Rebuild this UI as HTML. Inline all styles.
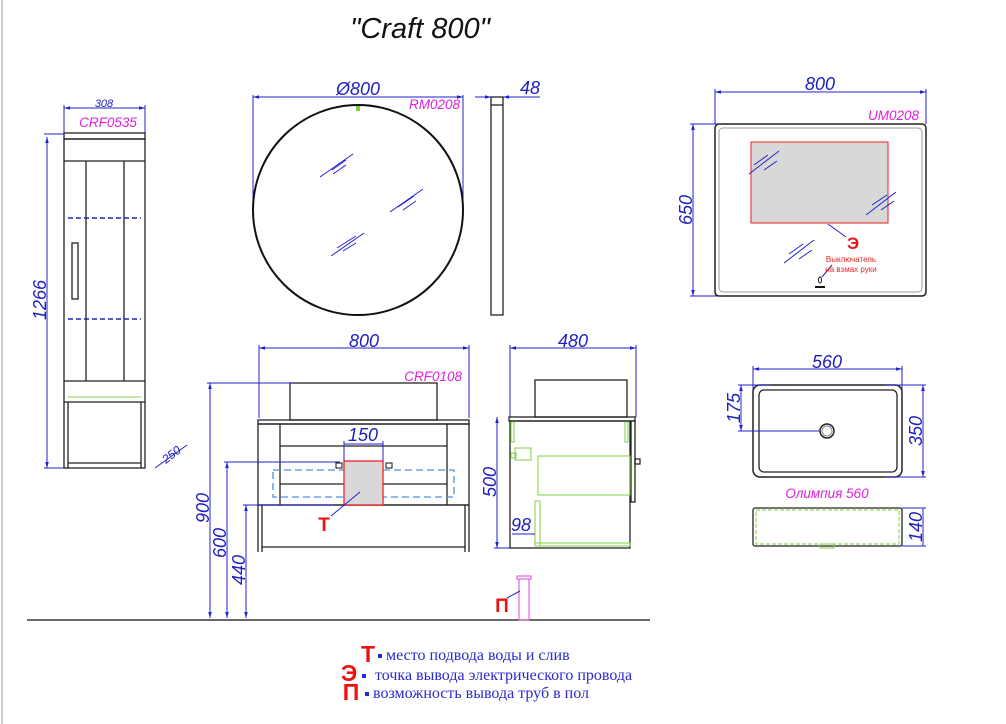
<!DOCTYPE html>
<html><head><meta charset="utf-8"><style>
html,body{margin:0;padding:0;background:#fff;}
svg{display:block;}
text{font-family:"Liberation Sans",sans-serif;}
.b{stroke:#2222cc;stroke-width:1;fill:none;}
.k{stroke:#222;stroke-width:1.3;fill:none;}
.g{stroke:#7fcf3f;stroke-width:1;fill:none;}
.dim{fill:#2020c0;font-style:italic;font-size:18px;}
.mg{fill:#e020e0;font-style:italic;font-size:13.5px;}
.lg{fill:#2a2ad0;font-family:"Liberation Serif",serif;font-size:16px;}
.rd{fill:#ee1111;font-weight:bold;}
</style></head><body>
<svg width="1006" height="724" viewBox="0 0 1006 724" xmlns="http://www.w3.org/2000/svg">
<defs><marker id="a" viewBox="0 0 10 10" refX="10" refY="5" markerWidth="6" markerHeight="6" orient="auto-start-reverse"><path d="M0,2 L10,5 L0,8z" fill="#2222cc"/></marker></defs>
<line x1="2" y1="0" x2="2" y2="724" stroke="#ccc" stroke-width="2"/>
<text x="420" y="38" text-anchor="middle" font-size="29" font-style="italic" fill="#111">"Craft 800"</text>

<!-- tall cabinet -->
<line class="b" x1="64" y1="108" x2="145" y2="108" marker-start="url(#a)" marker-end="url(#a)"/>
<line class="b" x1="64" y1="105" x2="64" y2="133"/><line class="b" x1="145" y1="105" x2="145" y2="133"/>
<text x="104" y="107" font-size="11" font-style="italic" fill="#2020c0" text-anchor="middle">308</text>
<text x="108" y="127" class="mg" text-anchor="middle">CRF0535</text>
<rect x="64" y="133" width="81" height="6" class="k" fill="#eee"/>
<rect x="64" y="139" width="81" height="329" class="k"/>
<line class="k" x1="64" y1="161" x2="145" y2="161"/>
<line class="k" x1="86" y1="161" x2="86" y2="381"/><line class="k" x1="124" y1="161" x2="124" y2="381"/>
<line class="k" x1="64" y1="381" x2="145" y2="381"/><line class="k" x1="64" y1="402" x2="145" y2="402"/>
<line class="g" x1="68" y1="397" x2="141" y2="397"/>
<line class="k" x1="68" y1="402" x2="68" y2="468"/><line class="k" x1="141" y1="402" x2="141" y2="468"/>
<line class="k" x1="68" y1="463" x2="141" y2="463"/>
<line x1="68" y1="218" x2="141" y2="218" stroke="#2222bb" stroke-width="1.5" stroke-dasharray="5,3"/>
<line x1="68" y1="319" x2="141" y2="319" stroke="#2222bb" stroke-width="1.5" stroke-dasharray="5,3"/>
<rect x="72" y="243" width="6" height="56" class="k" stroke-width="1.5"/>
<line class="b" x1="47" y1="137" x2="47" y2="468" marker-start="url(#a)" marker-end="url(#a)"/>
<line class="b" x1="44" y1="134" x2="64" y2="134"/><line class="b" x1="44" y1="468" x2="64" y2="468"/>
<text class="dim" transform="translate(46,300) rotate(-90)" text-anchor="middle" font-size="20">1266</text>
<line class="b" x1="155" y1="468" x2="187" y2="445"/>
<text x="166" y="464" transform="rotate(-38 166 464)" font-size="12" font-style="italic" fill="#2020c0">250</text>

<!-- round mirror -->
<line class="b" x1="253" y1="97" x2="463" y2="97" marker-start="url(#a)" marker-end="url(#a)"/>
<line class="b" x1="253" y1="95" x2="253" y2="210"/><line class="b" x1="463" y1="95" x2="463" y2="210"/>
<text x="358" y="95" class="dim" text-anchor="middle">Ø800</text>
<text x="460" y="109" class="mg" text-anchor="end">RM0208</text>
<circle cx="358" cy="210" r="105" fill="none" stroke="#111" stroke-width="2"/>
<rect x="356" y="106" width="4" height="5" fill="#7fcf3f"/>
<g stroke="#2222cc" stroke-width="1">
<line x1="320" y1="177" x2="353" y2="154"/><line x1="332" y1="170" x2="346" y2="160"/><line x1="333" y1="174" x2="346" y2="165"/>
<line x1="390" y1="212" x2="423" y2="189"/><line x1="398" y1="207" x2="414" y2="196"/><line x1="403" y1="210" x2="416" y2="201"/>
<line x1="331" y1="256" x2="364" y2="233"/><line x1="337" y1="248" x2="356" y2="236"/><line x1="343" y1="251" x2="356" y2="243"/>
</g>
<rect x="491" y="97" width="12" height="218" class="k"/>
<line class="k" x1="491" y1="105" x2="503" y2="105"/>
<line class="b" x1="475" y1="97" x2="491" y2="97" marker-end="url(#a)"/>
<line class="b" x1="540" y1="97" x2="503" y2="97" marker-end="url(#a)"/>
<text x="530" y="94" class="dim" text-anchor="middle">48</text>

<!-- rect mirror -->
<line class="b" x1="715" y1="92" x2="926" y2="92" marker-start="url(#a)" marker-end="url(#a)"/>
<line class="b" x1="715" y1="89" x2="715" y2="124"/><line class="b" x1="926" y1="89" x2="926" y2="124"/>
<text x="820" y="90" class="dim" text-anchor="middle">800</text>
<text x="919" y="120" class="mg" text-anchor="end">UM0208</text>
<line class="b" x1="693" y1="124" x2="693" y2="296" marker-start="url(#a)" marker-end="url(#a)"/>
<line class="b" x1="690" y1="124" x2="730" y2="124"/><line class="b" x1="690" y1="296" x2="730" y2="296"/>
<text class="dim" transform="translate(692,210) rotate(-90)" text-anchor="middle">650</text>
<rect x="715" y="124" width="211" height="172" rx="4" fill="none" stroke="#222" stroke-width="1.5"/>
<rect x="719" y="128" width="203" height="164" rx="4" fill="none" stroke="#999" stroke-width="1"/>
<rect x="751" y="142" width="137" height="81" fill="#d8d8d8" stroke="#ee2222" stroke-width="1"/>
<g stroke="#2222cc" stroke-width="1">
<line x1="749" y1="174" x2="779" y2="151"/><line x1="754" y1="165" x2="768" y2="155"/><line x1="764" y1="170" x2="777" y2="161"/>
<line x1="866" y1="215" x2="896" y2="192"/><line x1="872" y1="205" x2="887" y2="195"/><line x1="881" y1="210" x2="894" y2="201"/>
<line x1="784" y1="263" x2="814" y2="240"/><line x1="789" y1="254" x2="803" y2="244"/><line x1="799" y1="259" x2="812" y2="250"/>
<line x1="828" y1="224" x2="846" y2="237"/><line x1="822" y1="277" x2="832" y2="265"/>
</g>
<text x="853" y="249" class="rd" font-size="17" text-anchor="middle">Э</text>
<text x="851" y="262" fill="#ee2222" font-size="8" text-anchor="middle">Выключатель</text>
<text x="851" y="272" fill="#ee2222" font-size="8" text-anchor="middle">на взмах руки</text>
<ellipse cx="820" cy="280" rx="1.5" ry="3" fill="none" stroke="#111"/>
<rect x="815" y="286" width="10" height="2" fill="#111"/>

<!-- basin top -->
<line class="b" x1="753" y1="369" x2="902" y2="369" marker-start="url(#a)" marker-end="url(#a)"/>
<line class="b" x1="753" y1="366" x2="753" y2="395"/><line class="b" x1="902" y1="366" x2="902" y2="395"/>
<text x="827" y="368" class="dim" text-anchor="middle">560</text>
<rect x="753" y="385" width="149" height="92" rx="7" fill="none" stroke="#222" stroke-width="1.5"/>
<rect x="759" y="390" width="138" height="82" rx="5" fill="none" stroke="#222" stroke-width="1.3"/>
<circle cx="827" cy="431" r="7" fill="none" stroke="#222" stroke-width="1.5"/><circle cx="827" cy="431" r="5" fill="none" stroke="#888"/>
<line class="b" x1="741" y1="385" x2="741" y2="431" marker-start="url(#a)" marker-end="url(#a)"/>
<line class="b" x1="738" y1="385" x2="770" y2="385"/><line class="b" x1="738" y1="431" x2="820" y2="431"/>
<text class="dim" transform="translate(740,408) rotate(-90)" text-anchor="middle">175</text>
<line class="b" x1="923" y1="385" x2="923" y2="477" marker-start="url(#a)" marker-end="url(#a)"/>
<line class="b" x1="885" y1="385" x2="926" y2="385"/><line class="b" x1="885" y1="477" x2="926" y2="477"/>
<text class="dim" transform="translate(922,431) rotate(-90)" text-anchor="middle">350</text>
<text x="827" y="498" class="mg" text-anchor="middle">Олимпия 560</text>
<rect x="753" y="508" width="149" height="38" rx="2" fill="none" stroke="#222" stroke-width="1.3"/>
<rect x="756" y="510" width="143" height="34" fill="none" stroke="#7fcf3f" stroke-dasharray="4,2"/>
<rect x="820" y="544" width="14" height="4" fill="none" stroke="#7fcf3f"/>
<line class="b" x1="923" y1="508" x2="923" y2="546"/>
<line class="b" x1="902" y1="508" x2="926" y2="508"/><line class="b" x1="902" y1="546" x2="926" y2="546"/>
<text class="dim" transform="translate(922,527) rotate(-90)" text-anchor="middle">140</text>

<!-- vanity front -->
<line class="b" x1="259" y1="348" x2="469" y2="348" marker-start="url(#a)" marker-end="url(#a)"/>
<line class="b" x1="259" y1="345" x2="259" y2="418"/><line class="b" x1="469" y1="345" x2="469" y2="418"/>
<text x="364" y="347" class="dim" text-anchor="middle">800</text>
<text x="462" y="381" class="mg" text-anchor="end">CRF0108</text>
<rect x="290" y="383" width="147" height="37" class="k"/>
<rect x="258" y="420" width="211" height="4" class="k" fill="#eee"/>
<rect x="258" y="424" width="211" height="81" class="k"/>
<line class="k" x1="280" y1="424" x2="280" y2="505"/><line class="k" x1="447" y1="424" x2="447" y2="505"/>
<line class="k" x1="280" y1="446" x2="447" y2="446"/><line class="k" x1="280" y1="484" x2="447" y2="484"/>
<line class="k" x1="258" y1="505" x2="469" y2="505"/>
<line class="k" x1="258" y1="505" x2="258" y2="552"/><line class="k" x1="469" y1="505" x2="469" y2="552"/>
<line class="k" x1="262" y1="505" x2="262" y2="552"/><line class="k" x1="465" y1="505" x2="465" y2="552"/>
<line class="k" x1="262" y1="547" x2="465" y2="547"/>
<rect x="273" y="470" width="181" height="27" fill="none" stroke="#4a90e0" stroke-width="1.3" stroke-dasharray="7,4"/>
<rect x="344" y="461" width="39" height="44" fill="#d8d8d8" stroke="#ee2222" stroke-width="1.3"/>
<rect x="336" y="463" width="6" height="5" fill="none" stroke="#111"/><rect x="386" y="463" width="6" height="5" fill="none" stroke="#111"/>
<line class="b" x1="344" y1="444" x2="383" y2="444"/><line class="b" x1="344" y1="441" x2="344" y2="461"/><line class="b" x1="383" y1="441" x2="383" y2="461"/>
<text x="363" y="441" class="dim" text-anchor="middle">150</text>
<line class="b" x1="331" y1="516" x2="360" y2="492"/>
<text x="324" y="531" class="rd" font-size="19" text-anchor="middle">Т</text>
<line class="b" x1="210" y1="383" x2="210" y2="618" marker-start="url(#a)" marker-end="url(#a)"/>
<line class="b" x1="207" y1="383" x2="293" y2="383"/>
<text class="dim" transform="translate(209,508) rotate(-90)" text-anchor="middle">900</text>
<line class="b" x1="227" y1="462" x2="227" y2="618" marker-start="url(#a)" marker-end="url(#a)"/>
<line class="b" x1="224" y1="462" x2="340" y2="462"/>
<text class="dim" transform="translate(226,543) rotate(-90)" text-anchor="middle">600</text>
<line class="b" x1="246" y1="505" x2="246" y2="618" marker-start="url(#a)" marker-end="url(#a)"/>
<line class="b" x1="243" y1="505" x2="333" y2="505"/>
<text class="dim" transform="translate(245,570) rotate(-90)" text-anchor="middle">440</text>
<line x1="27" y1="620" x2="650" y2="620" stroke="#111" stroke-width="1.3"/>

<!-- vanity side -->
<line class="b" x1="510" y1="348" x2="636" y2="348" marker-start="url(#a)" marker-end="url(#a)"/>
<line class="b" x1="510" y1="345" x2="510" y2="417"/><line class="b" x1="636" y1="345" x2="636" y2="417"/>
<text x="573" y="347" class="dim" text-anchor="middle">480</text>
<rect x="535" y="380" width="92" height="37" class="k"/>
<rect x="509" y="417" width="126" height="4" class="k" fill="#eee"/>
<rect x="510" y="421" width="120" height="127" class="k"/>
<rect x="631" y="421" width="4" height="81" class="k"/>
<rect x="635" y="459" width="5" height="5" class="k"/>
<rect x="511" y="422" width="3" height="20" class="g"/><rect x="625" y="422" width="3" height="20" class="g"/>
<rect x="538" y="456" width="92" height="39" class="g"/>
<rect x="535" y="501" width="5" height="45" class="g"/>
<rect x="535" y="543" width="95" height="3" class="g"/>
<rect x="515" y="448" width="16" height="12" class="g"/><rect x="511" y="453" width="5" height="5" class="g"/>
<line class="b" x1="497" y1="417" x2="497" y2="548" marker-start="url(#a)" marker-end="url(#a)"/>
<line class="b" x1="494" y1="548" x2="510" y2="548"/>
<text class="dim" transform="translate(496,482) rotate(-90)" text-anchor="middle">500</text>
<text x="511" y="531" class="dim">98</text>
<line class="b" x1="512" y1="534" x2="535" y2="534"/>
<rect x="519" y="579" width="10" height="41" fill="none" stroke="#e040e0"/>
<rect x="517" y="576" width="14" height="3" fill="none" stroke="#e040e0"/>
<line class="b" x1="507" y1="598" x2="520" y2="591"/>
<text x="502" y="612" class="rd" font-size="19" text-anchor="middle">П</text>

<!-- legend -->
<text x="368" y="662" class="rd" font-size="23" text-anchor="middle">Т</text>
<rect x="378" y="654" width="4" height="4" fill="#2a2ad0"/>
<text x="386" y="660" class="lg">место подвода воды и слив</text>
<text x="349" y="681" class="rd" font-size="23" text-anchor="middle">Э</text>
<rect x="362" y="674" width="4" height="4" fill="#2a2ad0"/>
<text x="375" y="680" class="lg">точка вывода электрического провода</text>
<text x="351" y="700" class="rd" font-size="23" text-anchor="middle">П</text>
<rect x="365" y="692" width="4" height="4" fill="#2a2ad0"/>
<text x="373" y="698" class="lg">возможность вывода труб в пол</text>
</svg>
</body></html>
